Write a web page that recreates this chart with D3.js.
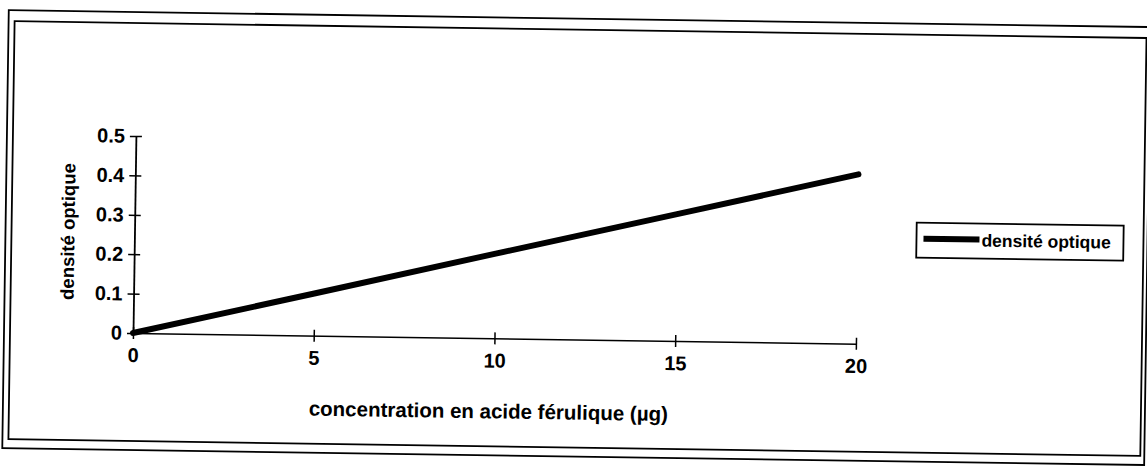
<!DOCTYPE html>
<html>
<head>
<meta charset="utf-8">
<script src="https://cdn.jsdelivr.net/npm/d3@7"></script>
<style>
  body { margin: 0; background: #fff; }
  svg { display: block; }
  .tick text { font-family: "Liberation Sans", Arial, sans-serif; font-weight: bold; font-size: 20px; fill: #000; }
  .axisText { font-family: "Liberation Sans", Arial, sans-serif; font-weight: bold; fill: #000; }
</style>
</head>
<body>
<div id="chart"></div>
<script>
// data
var concentration = [0, 5, 10, 15, 20];
var densiteOptique = [0, 0.107, 0.215, 0.322, 0.43];
var xTickValues = [0, 5, 10, 15, 20];
var yTickValues = [0, 0.1, 0.2, 0.3, 0.4, 0.5];
var yTickLabels = ["0", "0.1", "0.2", "0.3", "0.4", "0.5"];
var seriesName = "densité optique";
var xTitle = "concentration en acide férulique (µg)";
var yTitle = "densité optique";

var svgWidth = 1147;
var svgHeight = 468;

// plot origin, the scan is a little tilted so everything turns around it
var origin = { x: 133, y: 333 };
var plotWidth = 723;
var plotHeight = 197;

var svg = d3.select("#chart")
  .append("svg")
  .attr("width", svgWidth)
  .attr("height", svgHeight);

var page = svg.append("g")
  .attr("transform", `rotate(0.85, ${origin.x}, ${origin.y})`);

// outer and inner frames
page.append("rect")
  .attr("x", 4).attr("y", 12)
  .attr("width", 1142).attr("height", 438)
  .attr("fill", "none").attr("stroke", "#000").attr("stroke-width", 1.8);

page.append("rect")
  .attr("x", 10).attr("y", 23)
  .attr("width", 1132).attr("height", 418)
  .attr("fill", "none").attr("stroke", "#000").attr("stroke-width", 1.8);

var chartGroup = page.append("g")
  .attr("transform", `translate(${origin.x}, ${origin.y - plotHeight})`);

var xLinearScale = d3.scaleLinear()
  .domain([0, 20])
  .range([0, plotWidth]);

var yLinearScale = d3.scaleLinear()
  .domain([0, 0.5])
  .range([plotHeight, 0]);

var bottomAxis = d3.axisBottom(xLinearScale)
  .tickValues(xTickValues)
  .tickSizeOuter(0)
  .tickFormat(d3.format("d"));

var leftAxis = d3.axisLeft(yLinearScale)
  .tickValues(yTickValues)
  .tickSizeOuter(0)
  .tickFormat((d, i) => yTickLabels[i]);

var xAxisG = chartGroup.append("g")
  .attr("transform", `translate(0, ${plotHeight})`)
  .call(bottomAxis);

var yAxisG = chartGroup.append("g")
  .call(leftAxis);

// ticks cross the axis lines
xAxisG.selectAll(".tick line").attr("y1", -6).attr("y2", 6).attr("stroke", "#000").attr("stroke-width", 1.5);
xAxisG.selectAll(".tick text").attr("y", 15);
xAxisG.select(".domain").attr("stroke", "#000").attr("stroke-width", 1.5);

yAxisG.selectAll(".tick line").attr("x1", -6).attr("x2", 6).attr("stroke", "#000").attr("stroke-width", 1.5);
yAxisG.selectAll(".tick text").attr("x", -11);
yAxisG.select(".domain").attr("stroke", "#000").attr("stroke-width", 1.8);

// the series
var line = d3.line()
  .x((d, i) => xLinearScale(concentration[i]))
  .y(d => yLinearScale(d));

chartGroup.append("path")
  .datum(densiteOptique)
  .attr("d", line)
  .attr("fill", "none")
  .attr("stroke", "#000")
  .attr("stroke-width", 6)
  .attr("stroke-linecap", "round");

// axis titles
chartGroup.append("text")
  .attr("class", "axisText")
  .attr("x", plotWidth / 2 - 5)
  .attr("y", plotHeight + 80)
  .attr("text-anchor", "middle")
  .attr("font-size", "20.5px")
  .text(xTitle);

chartGroup.append("text")
  .attr("class", "axisText")
  .attr("transform", "rotate(-90)")
  .attr("x", -(plotHeight / 2) + 2)
  .attr("y", -60)
  .attr("text-anchor", "middle")
  .attr("font-size", "18.5px")
  .text(yTitle);

// legend
var legend = page.append("g")
  .attr("transform", "translate(915, 211)");

legend.append("rect")
  .attr("width", 207).attr("height", 35)
  .attr("fill", "#fff").attr("stroke", "#000").attr("stroke-width", 1.8);

legend.append("line")
  .attr("x1", 7).attr("x2", 63)
  .attr("y1", 16).attr("y2", 16)
  .attr("stroke", "#000").attr("stroke-width", 6);

legend.append("text")
  .attr("class", "axisText")
  .attr("x", 65)
  .attr("y", 23)
  .attr("font-size", "17.5px")
  .text(seriesName);
</script>
</body>
</html>
